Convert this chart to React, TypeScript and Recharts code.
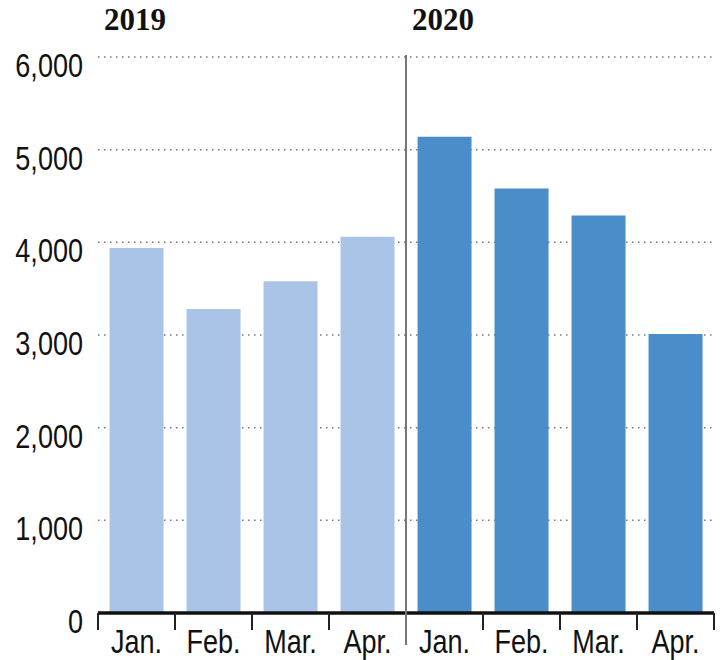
import { BarChart, Bar, Cell, XAxis, YAxis, CartesianGrid } from 'recharts';

const years = ['2019', '2020'];
const months = ['Jan.', 'Feb.', 'Mar.', 'Apr.'];
const values2019 = [3940, 3280, 3580, 4060];
const values2020 = [5140, 4580, 4290, 3010];
const yTicks = [0, 1000, 2000, 3000, 4000, 5000, 6000];

const COLORS: Record<string, string> = { '2019': '#a9c4e7', '2020': '#4a8ec9' };

const WIDTH = 724;
const HEIGHT = 660;
const MARGIN = { top: 57, right: 10, bottom: 7, left: 0 };
const Y_AXIS_W = 98;
const X_AXIS_H = 40;
const PLOT_W = WIDTH - MARGIN.left - MARGIN.right - Y_AXIS_W;
const PLOT_H = HEIGHT - MARGIN.top - MARGIN.bottom - X_AXIS_H;

const data = years.flatMap((year, yi) =>
  months.map((month, mi) => ({
    key: `${year}-${month}`,
    year,
    month,
    value: (yi === 0 ? values2019 : values2020)[mi],
  }))
);

const BAND = PLOT_W / data.length;

// no narrow face installed, so squeeze Liberation Sans (Arial metrics) horizontally
const sansFont = '"Liberation Sans", Arial, sans-serif';
const NARROW = 0.82;
const LABEL_SIZE = 33;
const serifFont = '"Liberation Serif", "DejaVu Serif", serif';

const XTick = ({ x, y, payload }: any) => {
  const i = payload.index;
  const row = data[i];
  const left = x - BAND / 2;
  const right = x + BAND / 2;
  const top = y - PLOT_H;
  const firstOfYear = months.indexOf(row.month) === 0;
  return (
    <g>
      {firstOfYear && i > 0 ? (
        <line x1={left} x2={left} y1={top - 2} y2={y + 32} stroke="#777" strokeWidth={2} />
      ) : (
        <line x1={left} x2={left} y1={y} y2={y + 17} stroke="#222" strokeWidth={2} />
      )}
      {i === data.length - 1 && (
        <line x1={right} x2={right} y1={y} y2={y + 17} stroke="#222" strokeWidth={2} />
      )}
      {firstOfYear && (
        <text x={left + 6} y={top - 27} fontFamily={serifFont} fontSize={31} fontWeight={700} fill="#111">
          {row.year}
        </text>
      )}
      <text
        transform={`translate(${x},${y + 40}) scale(${NARROW},1)`}
        textAnchor="middle"
        fontFamily={sansFont}
        fontSize={LABEL_SIZE}
        fill="#111"
      >
        {row.month}
      </text>
    </g>
  );
};

const YTick = ({ x, y, payload }: any) => (
  <text
    transform={`translate(${x},${y + 20}) scale(${NARROW},1)`}
    textAnchor="end"
    fontFamily={sansFont}
    fontSize={LABEL_SIZE}
    fill="#111"
  >
    {payload.value.toLocaleString('en-US')}
  </text>
);

export default function App() {
  return (
    <div style={{ position: 'absolute', left: 0, top: 0, background: '#fff' }}>
      <BarChart width={WIDTH} height={HEIGHT} data={data} margin={MARGIN} barCategoryGap="15%">
        <CartesianGrid vertical={false} stroke="#777" strokeWidth={1.5} strokeDasharray="1.5 4.5" />
        <YAxis
          type="number"
          domain={[0, 6000]}
          ticks={yTicks}
          width={Y_AXIS_W}
          axisLine={false}
          tickLine={false}
          tickSize={0}
          tickMargin={15}
          tick={<YTick />}
          interval={0}
        />
        <XAxis
          dataKey="key"
          height={X_AXIS_H}
          axisLine={{ stroke: '#111', strokeWidth: 3.5 }}
          tickLine={false}
          tickSize={0}
          tickMargin={0}
          tick={<XTick />}
          interval={0}
        />
        <Bar dataKey="value" isAnimationActive={false}>
          {data.map((d) => (
            <Cell key={d.key} fill={COLORS[d.year]} />
          ))}
        </Bar>
      </BarChart>
    </div>
  );
}
